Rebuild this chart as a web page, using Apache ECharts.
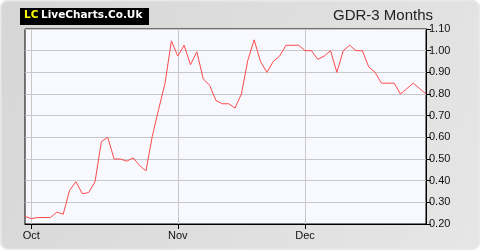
<!DOCTYPE html>
<html><head><meta charset="utf-8">
<script src="https://cdn.jsdelivr.net/npm/echarts@6/dist/echarts.min.js"></script>
<style>html,body{margin:0;padding:0;background:#fff}#c{width:480px;height:250px}</style>
</head><body><div id="c"></div>
<script>
var title = 'GDR-3 Months';
var monthLabels = ['Oct', 'Nov', 'Dec'];
var monthStartIndex = [1, 24, 44];
var prices = [0.235, 0.225, 0.23, 0.23, 0.23, 0.255, 0.245, 0.355, 0.395, 0.34,
  0.345, 0.395, 0.58, 0.60, 0.50, 0.50, 0.49, 0.505, 0.47, 0.445,
  0.605, 0.73, 0.85, 1.045, 0.975, 1.025, 0.935, 0.995, 0.87, 0.84,
  0.77, 0.755, 0.755, 0.735, 0.80, 0.955, 1.05, 0.95, 0.90, 0.95,
  0.975, 1.025, 1.025, 1.025, 1.0, 1.0, 0.96, 0.975, 1.0, 0.90,
  1.0, 1.025, 1.0, 1.0, 0.925, 0.90, 0.85, 0.85, 0.85, 0.80,
  0.825, 0.85, 0.825, 0.80];
var yTicks = [0.2, 0.3, 0.4, 0.5, 0.6, 0.7, 0.8, 0.9, 1.0, 1.1];

var categories = prices.map(function (v, i) {
  var k = monthStartIndex.indexOf(i);
  return k >= 0 ? monthLabels[k] : 'd' + i;
});
function isMonth(i) { return monthStartIndex.indexOf(i) >= 0; }

var chart = echarts.init(document.getElementById('c'), null, {renderer: 'canvas'});
chart.setOption({
  animation: false,
  graphic: [{
    type: 'rect', z: -10, silent: true,
    shape: {x: 0.5, y: 0.5, width: 479, height: 249, r: 8},
    style: {
      fill: new echarts.graphic.LinearGradient(0, 0, 1, 1, [
        {offset: 0, color: '#d6d6d6'}, {offset: 1, color: '#e6e6e6'}]),
      stroke: '#e9e9e9', lineWidth: 2
    }
  }, {
    type: 'rect', silent: true,
    shape: {x: 20, y: 8, width: 129, height: 17},
    style: {fill: '#000'}
  }, {
    type: 'text', silent: true, left: 24, top: 10,
    style: {text: 'LC', fill: '#ffff00', font: 'bold 10.5px "DejaVu Sans"'}
  }, {
    type: 'text', silent: true, left: 41, top: 10,
    style: {text: 'LiveCharts.Co.Uk', fill: '#ffffff', font: 'bold 10.5px "DejaVu Sans"'}
  }, {
    type: 'text', silent: true, right: 47, top: 8,
    style: {text: title, fill: '#222', font: '15px "Liberation Sans", Arial'}
  }],
  grid: {left: 25, right: 54, top: 29, bottom: 26, show: true,
    backgroundColor: '#f8f9ff', borderColor: '#000', borderWidth: 1},
  xAxis: {
    type: 'category', data: categories, boundaryGap: false,
    axisLine: {show: true, lineStyle: {color: '#000', width: 1}},
    axisTick: {show: true, length: 5, lineStyle: {color: '#000'},
      interval: function (i) { return isMonth(i); }},
    axisLabel: {color: '#111', fontSize: 11, fontFamily: '"Liberation Sans", Arial', margin: 6,
      interval: function (i) { return isMonth(i); }},
    splitLine: {show: true, lineStyle: {color: '#c8c8c8', width: 1},
      interval: function (i) { return isMonth(i); }}
  },
  yAxis: {
    type: 'value', position: 'right', min: 0.2, max: 1.1, interval: 0.1,
    axisLine: {show: true, lineStyle: {color: '#000'}},
    axisTick: {show: true, length: 5, lineStyle: {color: '#000'}},
    axisLabel: {color: '#111', fontSize: 11, fontFamily: '"Liberation Sans", Arial', margin: 3,
      formatter: function (v) { return v.toFixed(2); }},
    splitLine: {show: true, lineStyle: {color: '#c8c8c8', width: 1}}
  },
  series: [{
    type: 'line', data: prices, symbol: 'none',
    lineStyle: {color: '#ff4a4a', width: 1}
  }]
});
</script></body></html>
